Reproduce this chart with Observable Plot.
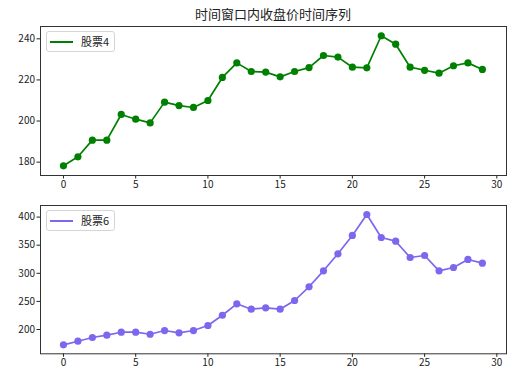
<!DOCTYPE html>
<html>
<head>
<meta charset="utf-8">
<script src="https://cdn.jsdelivr.net/npm/d3@7"></script>
<script src="https://cdn.jsdelivr.net/npm/@observablehq/plot@0.6"></script>
<style>
  body { margin: 0; background: #fff; font-family: "Noto Sans CJK SC", "DejaVu Sans", sans-serif; }
  #wrap { position: relative; width: 513px; height: 382px; }
  #title { position: absolute; left: 40px; width: 466px; top: 5px; text-align: center; font-size: 13px; color: #222; line-height: 18px; }
  .panel { position: absolute; left: 0; }
  .legend { position: absolute; left: 46px; width: 67px; height: 19px; border: 1px solid #d5d5d5; border-radius: 3px; background: rgba(255,255,255,0.8); font-size: 11px; color: #222; }
  .legend .sw { position: absolute; left: 3px; top: 9px; width: 23px; height: 2px; }
  .legend .lb { position: absolute; left: 34px; top: 0; line-height: 19px; }
</style>
</head>
<body>
<div id="wrap">
  <div id="title">时间窗口内收盘价时间序列</div>
  <div id="p1" class="panel" style="top:0"></div>
  <div id="p2" class="panel" style="top:190px"></div>
  <div class="legend" style="top:31px"><div class="sw" style="background:green"></div><div class="lb">股票4</div></div>
  <div class="legend" style="top:210px"><div class="sw" style="background:mediumslateblue"></div><div class="lb">股票6</div></div>
</div>
<script>
const days = d3.range(30);
const stock4 = [178.2, 182.6, 190.7, 190.7, 203.2, 200.9, 199.1, 209.2, 207.5, 206.6,
                210.0, 221.2, 228.3, 224.1, 223.8, 221.5, 224.1, 226.0, 231.9, 231.1,
                226.2, 225.9, 241.5, 237.4, 226.2, 224.7, 223.3, 226.9, 228.3, 225.1];
const stock6 = [172.8, 179.2, 185.8, 189.9, 195.2, 195.2, 191.6, 198.2, 194.1, 198.2,
                207.1, 225.4, 245.7, 236.1, 238.6, 236.1, 251.6, 276.0, 304.4, 334.7,
                367.3, 404.6, 363.7, 357.1, 328.1, 331.7, 304.4, 310.3, 324.6, 318.0];
const xTicks = [0, 5, 10, 15, 20, 25, 30];
const yTicks4 = [180, 200, 220, 240];
const yTicks6 = [200, 250, 300, 350, 400];

const font = '"Noto Sans CJK SC", "DejaVu Sans", sans-serif';

function panel(values, color, yDomain, yTicks, height, mt, mb) {
  const data = days.map((d, i) => ({x: d, y: values[i]}));
  return Plot.plot({
    width: 513, height,
    marginTop: mt, marginBottom: mb, marginLeft: 40, marginRight: 7,
    style: {fontFamily: font, fontSize: "10px", color: "#222", background: "transparent"},
    x: {domain: [-1.59, 30.67]},
    y: {domain: yDomain},
    marks: [
      Plot.axisX(xTicks, {tickSize: 3.5, tickPadding: 2, fontSize: 10, label: null, stroke: "#222"}),
      Plot.axisY(yTicks, {tickSize: 3.5, tickPadding: 2, fontSize: 10, label: null, stroke: "#222"}),
      Plot.line(data, {x: "x", y: "y", stroke: color, strokeWidth: 1.7}),
      Plot.dot(data, {x: "x", y: "y", fill: color, r: 3.6, stroke: "none"}),
      Plot.frame({stroke: "#333", strokeWidth: 1})
    ]
  });
}

document.getElementById("p1").append(panel(stock4, "green", [173.5, 246], yTicks4, 190, 26, 15));
document.getElementById("p2").append(panel(stock6, "mediumslateblue", [156.8, 420.6], yTicks6, 192, 15, 28.7));
</script>
</body>
</html>
